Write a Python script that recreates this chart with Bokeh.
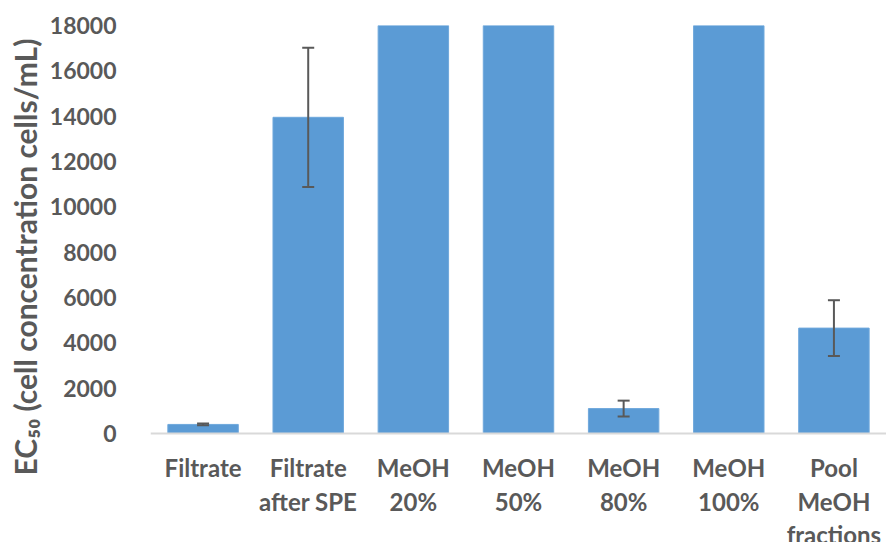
from bokeh.plotting import figure
from bokeh.models import (ColumnDataSource, FixedTicker, BasicTickFormatter, Whisker, TeeHead,
                          FactorRange, Range1d, Span)
from bokeh.core.properties import value
from bokeh.embed import file_html
from bokeh.resources import INLINE

categories = ["Filtrate", "Filtrate after SPE", "MeOH 20%", "MeOH 50%", "MeOH 80%", "MeOH 100%", "Pool MeOH fractions"]
label_lines = [["Filtrate"], ["Filtrate", "after SPE"], ["MeOH", "20%"], ["MeOH", "50%"],
               ["MeOH", "80%"], ["MeOH", "100%"], ["Pool", "MeOH", "fractions"]]
values = [400, 13950, 25000, 25000, 1100, 25000, 4650]
errors = [40, 3070, 0, 0, 350, 0, 1230]
has_err = [True, True, False, False, True, False, True]
y_ticks = [0, 2000, 4000, 6000, 8000, 10000, 12000, 14000, 16000, 18000]
y_max = 18000
y_title = "EC\u2085\u2080 (cell concentration cells/mL)"

src = ColumnDataSource(dict(cat=categories, val=values))
ecat = [c for c, h in zip(categories, has_err) if h]
ev = [v for v, h in zip(values, has_err) if h]
ee = [e for e, h in zip(errors, has_err) if h]
esrc = ColumnDataSource(dict(cat=ecat, up=[v + e for v, e in zip(ev, ee)], lo=[v - e for v, e in zip(ev, ee)]))

font = "Lato"
grey = "#595959"

# frame: 408 px for 0..18000, plus 109 px below the baseline for the category labels
y_min = -y_max * 109 / 408

p = figure(x_range=FactorRange(*categories, range_padding=0), y_range=Range1d(y_min, y_max),
           width=886, height=542, output_backend="svg", toolbar_location=None,
           min_border_left=148, min_border_right=0, min_border_top=25, min_border_bottom=0,
           title=y_title, title_location="left")
p.outline_line_color = None
p.xgrid.grid_line_color = None
p.ygrid.grid_line_color = None
p.xaxis.visible = False

p.title.align = "left"
p.title.offset = 67
p.title.standoff = 8
p.title.text_font = font
p.title.text_font_style = "bold"
p.title.text_font_size = "30px"
p.title.text_color = grey

p.vbar(x="cat", top="val", bottom=0, width=0.67, source=src, fill_color="#5B9BD5", line_color="#6FA8DC", line_width=1)

p.add_layout(Span(location=0, dimension="width", line_color="#D9D9D9", line_width=2))

w = Whisker(source=esrc, base="cat", upper="up", lower="lo", line_color=grey, line_width=2, level="overlay",
            upper_head=TeeHead(size=12, line_color=grey, line_width=2),
            lower_head=TeeHead(size=12, line_color=grey, line_width=2))
p.add_layout(w)

# category labels, one row per line of text
lx, ly, lt, lo = [], [], [], []
offsets = [34, 68, 101]
for c, lines in zip(categories, label_lines):
    for i, t in enumerate(lines):
        lx.append(c)
        ly.append(0)
        lt.append(t)
        lo.append(offsets[i])
lsrc = ColumnDataSource(dict(x=lx, y=ly, t=lt, o=lo))
p.text(x="x", y="y", text="t", y_offset="o", source=lsrc, text_align="center",
       text_baseline="middle", text_font=value(font), text_font_style="bold",
       text_font_size="24px", text_color=grey)

yax = p.yaxis[0]
yax.bounds = (0, y_max)
yax.ticker = FixedTicker(ticks=y_ticks)
yax.formatter = BasicTickFormatter(use_scientific=False)
yax.axis_line_color = None
yax.major_tick_line_color = None
yax.minor_tick_line_color = None
yax.major_label_text_font = font
yax.major_label_text_font_style = "bold"
yax.major_label_text_font_size = "23px"
yax.major_label_text_color = grey
yax.major_label_standoff = 28

open("out.html", "w").write(file_html(p, INLINE))
